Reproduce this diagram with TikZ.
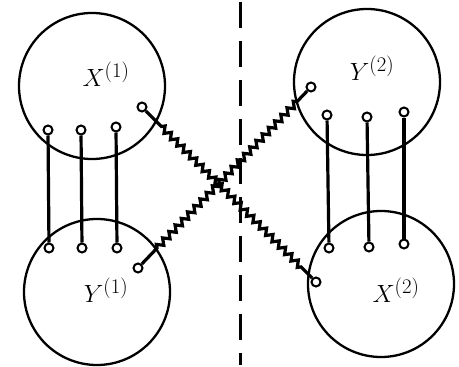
\documentclass[tikz,border=0pt]{standalone}
\usetikzlibrary{decorations.pathmorphing}
\begin{document}
\begin{tikzpicture}[x=1pt,y=-1pt,
  big/.style={draw,circle,line width=2.3pt,minimum size=146pt,inner sep=0pt},
  term/.style={draw,circle,line width=2pt,minimum size=9pt,inner sep=0pt,fill=white},
  wire/.style={line width=3.2pt},
  zz/.style={line width=3.2pt,decorate,decoration={zigzag,segment length=9pt,amplitude=3pt,pre length=22pt,post length=12pt}},
  lbl/.style={font=\fontsize{28}{32}\selectfont}]
\useasboundingbox (0,0) rectangle (459,367);
% dashed axis
\coordinate (dtop) at (240,2);
\coordinate (dbot) at (240,365);
\draw[line width=3pt,dash pattern=on 26pt off 13pt] (dtop) -- (dbot);
% big circles
\node[big] (X1) at (92,86) {};
\node[big] (Y2) at (367,82) {};
\node[big] (Y1) at (97,292) {};
\node[big] (X2) at (381,284) {};
% labels
\node[lbl] (lX1) at (106,74) {$X^{(1)}$};
\node[lbl] (lY2) at (372,68) {$Y^{(2)}$};
\node[lbl] (lY1) at (106,290) {$Y^{(1)}$};
\node[lbl] (lX2) at (396,290) {$X^{(2)}$};
% terminals left pair
\node[term] (a1) at (48,130) {};
\node[term] (a2) at (81,130) {};
\node[term] (a3) at (116,127) {};
\node[term] (b1) at (49,248) {};
\node[term] (b2) at (82,248) {};
\node[term] (b3) at (117,248) {};
% terminals right pair
\node[term] (c1) at (327,115) {};
\node[term] (c2) at (367,117) {};
\node[term] (c3) at (404,112) {};
\node[term] (d1) at (329,248) {};
\node[term] (d2) at (369,247) {};
\node[term] (d3) at (404,244) {};
% crossing terminals
\node[term] (p) at (142,107) {};
\node[term] (q) at (316,282) {};
\node[term] (r) at (138,268) {};
\node[term] (s) at (311,87) {};
% vertical wires
\draw[wire] (a1) -- (b1);
\draw[wire] (a2) -- (b2);
\draw[wire] (a3) -- (b3);
\draw[wire] (c1) -- (d1);
\draw[wire] (c2) -- (d2);
\draw[wire] (c3) -- (d3);
% zigzag wires
\draw[zz] (p) -- (q);
\draw[zz] (r) -- (s);
\end{tikzpicture}
\end{document}
